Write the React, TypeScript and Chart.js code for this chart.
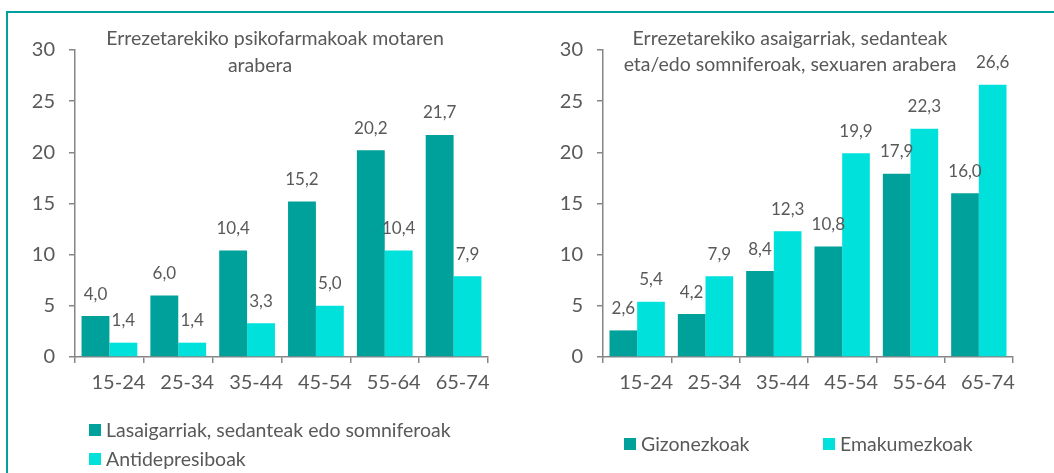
import React, { useEffect, useRef } from "react";
import { Chart, registerables } from "chart.js";

Chart.register(...registerables);

const ageGroups = ["15-24", "25-34", "35-44", "45-54", "55-64", "65-74"];

const leftTitleLines = ["Errezetarekiko psikofarmakoak motaren", "arabera"];
const leftSeriesNames = ["Lasaigarriak, sedanteak edo somniferoak", "Antidepresiboak"];
const tranquilizers = [4.0, 6.0, 10.4, 15.2, 20.2, 21.7];
const antidepressants = [1.4, 1.4, 3.3, 5.0, 10.4, 7.9];

const rightTitleLines = ["Errezetarekiko asaigarriak, sedanteak", "eta/edo somniferoak, sexuaren arabera"];
const rightSeriesNames = ["Gizonezkoak", "Emakumezkoak"];
const men = [2.6, 4.2, 8.4, 10.8, 17.9, 16.0];
const women = [5.4, 7.9, 12.3, 19.9, 22.3, 26.6];

const yTicks = [0, 5, 10, 15, 20, 25, 30];

const DARK = "#00A19B";
const LIGHT = "#00E1DC";
const TEXT = "#595959";
const AXIS = "#868686";
const FONT = "Lato";

const valueLabels = {
  id: "valueLabels",
  afterDatasetsDraw(chart: any) {
    const ctx = chart.ctx;
    ctx.save();
    ctx.font = `17px ${FONT}`;
    ctx.fillStyle = TEXT;
    ctx.textAlign = "center";
    ctx.textBaseline = "middle";
    chart.data.datasets.forEach((ds: any, i: number) => {
      const meta = chart.getDatasetMeta(i);
      meta.data.forEach((el: any, j: number) => {
        const v = ds.data[j] as number;
        ctx.fillText(v.toFixed(1).replace(".", ","), el.x, el.y - 22);
      });
    });
    ctx.restore();
  },
};

function makeConfig(a: number[], b: number[], names: string[], yWidth: number, padRight: number) {
  return {
    type: "bar" as const,
    data: {
      labels: ageGroups,
      datasets: [
        { label: names[0], data: a, backgroundColor: DARK, borderWidth: 0, barPercentage: 1.0, categoryPercentage: 0.81 },
        { label: names[1], data: b, backgroundColor: LIGHT, borderWidth: 0, barPercentage: 1.0, categoryPercentage: 0.81 },
      ],
    },
    options: {
      responsive: false,
      animation: false as const,
      layout: { padding: { top: 50, right: padRight, bottom: 473 - 357 - 40, left: 0 } },
      plugins: { legend: { display: false }, title: { display: false }, tooltip: { enabled: false } },
      scales: {
        x: {
          grid: { display: true, drawOnChartArea: false, drawTicks: true, tickLength: 6, color: AXIS, lineWidth: 1.5 },
          border: { display: true, color: AXIS, width: 1.5 },
          ticks: { color: TEXT, font: { family: FONT, size: 20 }, padding: 8, labelOffset: 9, maxRotation: 0 },
          afterFit: (s: any) => { s.height = 40; },
        },
        y: {
          min: yTicks[0],
          max: yTicks[yTicks.length - 1],
          afterBuildTicks: (s: any) => { s.ticks = yTicks.map((v) => ({ value: v })); },
          grid: { display: true, drawOnChartArea: false, drawTicks: true, tickLength: 6, color: AXIS, lineWidth: 1.5 },
          border: { display: true, color: AXIS, width: 1.5 },
          ticks: { color: TEXT, font: { family: FONT, size: 20 }, padding: 14 },
          afterFit: (s: any) => { s.width = yWidth; },
        },
      },
    },
    plugins: [valueLabels],
  };
}

function BarPanel(props: { a: number[]; b: number[]; names: string[]; yWidth: number; padRight: number }) {
  const ref = useRef<HTMLCanvasElement | null>(null);
  useEffect(() => {
    if (!ref.current) return;
    const chart = new Chart(ref.current, makeConfig(props.a, props.b, props.names, props.yWidth, props.padRight) as any);
    return () => chart.destroy();
  }, []);
  return <canvas ref={ref} width={527} height={473} style={{ width: 527, height: 473, display: "block" }} />;
}

const textStyle: React.CSSProperties = {
  position: "absolute",
  fontFamily: FONT,
  color: TEXT,
  whiteSpace: "nowrap",
  lineHeight: "24px",
};

function Centered(props: { x: number; y: number; size: number; children: React.ReactNode }) {
  return (
    <div style={{ ...textStyle, left: props.x - 300, width: 600, textAlign: "center", top: props.y - 12, fontSize: props.size }}>
      {props.children}
    </div>
  );
}

function LegendItem(props: { x: number; y: number; color: string; label: string }) {
  return (
    <div style={{ ...textStyle, left: props.x, top: props.y - 12, fontSize: 19.5, display: "flex", alignItems: "center" }}>
      <span style={{ display: "inline-block", width: 12, height: 12, background: props.color, marginRight: 5 }} />
      <span>{props.label}</span>
    </div>
  );
}

export default function App() {
  return (
    <div style={{ position: "absolute", left: 0, top: 0, width: 1054, height: 473, overflow: "hidden", background: "#fff" }}>
      <div
        style={{
          position: "absolute",
          left: 6,
          top: 11,
          width: 1060,
          height: 480,
          borderTop: `2px solid ${DARK}`,
          borderLeft: `2px solid ${DARK}`,
        }}
      />
      <div style={{ position: "absolute", left: 0, top: 0 }}>
        <BarPanel a={tranquilizers} b={antidepressants} names={leftSeriesNames} yWidth={75} padRight={39} />
      </div>
      <div style={{ position: "absolute", left: 527, top: 0 }}>
        <BarPanel a={men} b={women} names={rightSeriesNames} yWidth={76} padRight={41} />
      </div>
      <Centered x={275} y={38} size={19.5}>{leftTitleLines[0]}</Centered>
      <Centered x={260} y={65} size={19.5}>{leftTitleLines[1]}</Centered>
      <Centered x={790} y={38} size={19.5}>{rightTitleLines[0]}</Centered>
      <Centered x={790} y={64} size={19.5}>{rightTitleLines[1]}</Centered>
      <LegendItem x={89} y={430} color={DARK} label={leftSeriesNames[0]} />
      <LegendItem x={89} y={459} color={LIGHT} label={leftSeriesNames[1]} />
      <LegendItem x={624} y={444} color={DARK} label={rightSeriesNames[0]} />
      <LegendItem x={823} y={444} color={LIGHT} label={rightSeriesNames[1]} />
    </div>
  );
}
